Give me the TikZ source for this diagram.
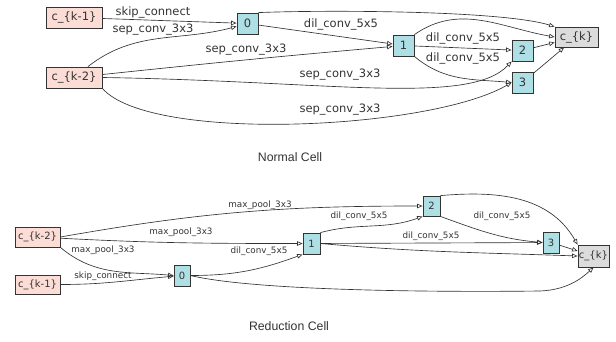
\documentclass[tikz,border=0pt]{standalone}
\usepackage{fontspec}
\setmainfont{DejaVu Sans}
\newfontfamily\capfont{Liberation Sans}
\usetikzlibrary{arrows.meta, positioning}
\definecolor{inpink}{HTML}{FBDDD6}
\definecolor{midblue}{HTML}{AEDFE5}
\definecolor{outgray}{HTML}{DCDCDC}
\definecolor{ink}{HTML}{333333}

\begin{document}
\begin{tikzpicture}[
    x=1pt, y=-1pt,
    every node/.style={inner sep=0pt, text=ink},
    cellbox/.style={draw=ink, line width=0.8pt, minimum height=21pt, minimum width=21pt},
    inbox/.style={cellbox, fill=inpink, minimum width=56pt},
    midbox/.style={cellbox, fill=midblue},
    outbox/.style={cellbox, fill=outgray, minimum width=43pt, minimum height=20pt},
    lbl/.style={font=\fontsize{11.5}{12}\selectfont},
    slbl/.style={font=\fontsize{8.8}{9}\selectfont},
    edge/.style={draw=ink, line width=0.65pt, -{Triangle[open, length=5.5pt, width=4.5pt]}}
]
    \useasboundingbox (0,0) rectangle (616,341);
    % normal cell
    \begin{scope}[every node/.append style={font=\fontsize{11.5}{12}\selectfont}]
    \node[inbox] (k1) at (74,17.5) {c\_\{k-1\}};
    \node[inbox] (k2) at (74,77.5) {c\_\{k-2\}};
    \node[midbox] (n0) at (247.5,23.5) {0};
    \node[midbox] (n1) at (403.5,45.5) {1};
    \node[midbox] (n2) at (522.5,50.5) {2};
    \node[midbox] (n3) at (522.5,82.5) {3};
    \node[outbox] (ck) at (576.5,37) {c\_\{k\}};
    \end{scope}
    \draw[edge] (k1) -- (n0);
    \draw[edge] (k2) to[out=38, in=195] (n0);
    \draw[edge] (k2) to[out=6, in=185] (n1);
    \draw[edge] (n0) -- (n1);
    \draw[edge] (k2.east) .. controls (330,81) and (470,106) .. (n2.south west);
    \draw[edge] (k2.south east) .. controls (150,143) and (430,130) .. (n3.west);
    \draw[edge] (n1) -- (n2);
    \draw[edge] (n1.south east) to[out=-40, in=175] (n3.west);
    \draw[edge] (n0.north east) .. controls (320,10) and (500,10) .. (ck.north west);
    \draw[edge] (n1.north east) to[out=35, in=170] (ck.west);
    \draw[edge] (n2) -- (ck);
    \draw[edge] (n3) -- (ck);
    \node[lbl] (l1) at (153,12) {skip\_connect};
    \node[lbl] (l2) at (153,30) {sep\_conv\_3x3};
    \node[lbl] (l3) at (246,50) {sep\_conv\_3x3};
    \node[lbl] (l4) at (341,24) {dil\_conv\_5x5};
    \node[lbl] (l5) at (340,75) {sep\_conv\_3x3};
    \node[lbl] (l6) at (340,110) {sep\_conv\_3x3};
    \node[lbl] (l7) at (463,38) {dil\_conv\_5x5};
    \node[lbl] (l8) at (463,58) {dil\_conv\_5x5};
    \node[font=\capfont\fontsize{12.3}{13}\selectfont] (cap1) at (290,157) {Normal Cell};
    % reduction cell
    \begin{scope}[every node/.append style={font=\fontsize{10}{11}\selectfont}]
    \node[inbox, minimum width=45pt, minimum height=20pt] (r2) at (37.5,237) {c\_\{k-2\}};
    \node[inbox, minimum width=45pt, minimum height=19pt] (r1) at (37.5,284.5) {c\_\{k-1\}};
    \node[midbox, minimum width=16pt] (m0) at (182,275.5) {0};
    \node[midbox, minimum width=17pt] (m1) at (311.5,243.5) {1};
    \node[midbox, minimum width=17pt, minimum height=20pt] (m2) at (431.5,206) {2};
    \node[midbox, minimum width=16pt] (m3) at (551,242.5) {3};
    \node[outbox, minimum width=31pt, minimum height=22pt] (rk) at (593.5,256) {c\_\{k\}};
    \end{scope}
    \draw[edge] (r2.east) to[out=10, in=180] (m2.west);
    \draw[edge] (r2) to[out=-3, in=180] (m1);
    \draw[edge] (r2.south east) to[out=-40, in=175] (m0.west);
    \draw[edge] (r1) to[out=0, in=185] (m0);
    \draw[edge] (m0) to[out=0, in=200] (m1.south west);
    \draw[edge] (m1.north east) to[out=15, in=200] (m2.south west);
    \draw[edge] (m1) -- (m3);
    \draw[edge] (m2.south east) to[out=-20, in=175] (m3.west);
    \draw[edge] (m2.north east) to[out=5, in=120] (rk.north west);
    \draw[edge] (m3) -- (rk);
    \draw[edge] (m1.east) to[out=-5, in=178] (rk.west);
    \draw[edge] (m0.east) .. controls (260,292) and (460,292) .. (540,291) .. controls (565,290) and (580,280) .. (rk.south);
    \node[slbl] (s1) at (260,205) {max\_pool\_3x3};
    \node[slbl] (s2) at (181,232) {max\_pool\_3x3};
    \node[slbl] (s3) at (103,250) {max\_pool\_3x3};
    \node[slbl] (s4) at (103,276) {skip\_connect};
    \node[slbl] (s5) at (259,251) {dil\_conv\_5x5};
    \node[slbl] (s6) at (359,216) {dil\_conv\_5x5};
    \node[slbl] (s7) at (431,236) {dil\_conv\_5x5};
    \node[slbl] (s8) at (502,216) {dil\_conv\_5x5};
    \node[font=\capfont\fontsize{12.3}{13}\selectfont] (cap2) at (289,326) {Reduction Cell};
\end{tikzpicture}
\end{document}
